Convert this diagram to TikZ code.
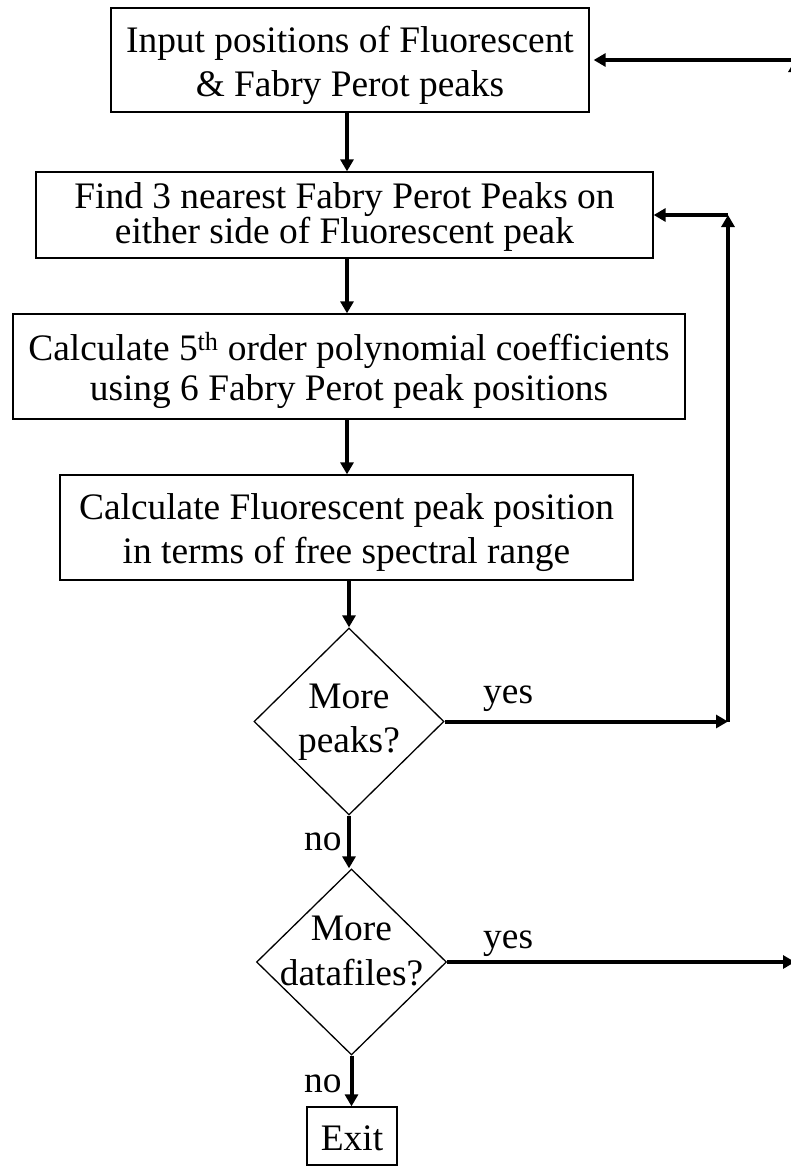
\documentclass[tikz,border=0pt]{standalone}
\usepackage{fontspec}
\setmainfont{Liberation Serif}
\usetikzlibrary{arrows.meta,shapes.geometric}
\tikzset{
  fs/.style={font=\fontsize{37.4}{#1}\selectfont},
  box/.style={draw, line width=1.3pt, inner sep=0pt, align=center, text depth=0pt},
  dia/.style={draw, diamond, line width=1.3pt, inner sep=0pt, aspect=1},
  dtext/.style={inner sep=0pt, align=center, text depth=0pt},
  lbl/.style={inner sep=0pt, anchor=base west, fs=40},
  arr/.style={line width=4pt, -{Triangle[length=12pt,width=13pt]}},
}
\begin{document}
\begin{tikzpicture}[x=1pt,y=-1pt]
\useasboundingbox (0,0) rectangle (791,1167);
\clip (0,0) rectangle (791,1167);
\coordinate (axis) at (347,0);
\coordinate (c1) at (728,0);
\coordinate (c2) at (795,0);

\node[box, fs=44, text height=73.4pt, minimum width=478pt, minimum height=104pt] (b1) at (350,60)
  {Input positions of Fluorescent\\\& Fabry Perot peaks};
\node[box, fs=35, text height=56pt, minimum width=617pt, minimum height=86pt] (b2) at (344.5,215)
  {Find 3 nearest Fabry Perot Peaks on\\either side of Fluorescent peak};
\node[box, fs=40, text height=67pt, minimum width=672pt, minimum height=105pt] (b3) at (349,366.5)
  {Calculate 5\textsuperscript{th} order polynomial coefficients\\using 6 Fabry Perot peak positions};
\node[box, fs=44, text height=71pt, minimum width=573pt, minimum height=105pt] (b4) at (346.5,527.5)
  {Calculate Fluorescent peak position\\in terms of free spectral range};
\node[dia, minimum width=190pt, minimum height=187pt] (d1) at (349,721.5) {};
\node[dtext, fs=44, text height=61pt] (t1) at (d1) {More\\peaks?};
\node[dia, minimum width=190pt, minimum height=186pt] (d2) at (351.5,962) {};
\node[dtext, fs=45, text height=46pt] (t2) at (d2) {More\\datafiles?};
\node[box, fs=40, text height=28pt, minimum width=90pt, minimum height=58pt] (ex) at (352,1136) {Exit};

\node[lbl] (y1) at (483,703) {yes};
\node[lbl] (y2) at (483,948) {yes};
\node[lbl] (n1) at (304,850) {no};
\node[lbl] (n2) at (304,1092) {no};

\draw[arr] (b1.south -| axis) -- (b2.north -| axis);
\draw[arr] (b2.south -| axis) -- (b3.north -| axis);
\draw[arr] (b3.south -| axis) -- (b4.north -| axis);
\draw[arr] (b4.south -| d1.north) -- (d1.north);
\draw[arr] (d1.south) -- (d1.south |- d2.north);
\draw[arr] (d2.south) -- (d2.south |- ex.north);

\draw[arr] (d1.east) -- (d1.east -| c1);
\draw[arr] (d1.east -| c1) -- (b2.east -| c1);
\draw[arr] (b2.east -| c1) -- (b2.east);

\draw[arr] (d2.east) -- (d2.east -| c2);
\draw[arr] (d2.east -| c2) -- (b1.east -| c2);
\draw[arr, shorten >=4pt] (b1.east -| c2) -- (b1.east);
\end{tikzpicture}
\end{document}
